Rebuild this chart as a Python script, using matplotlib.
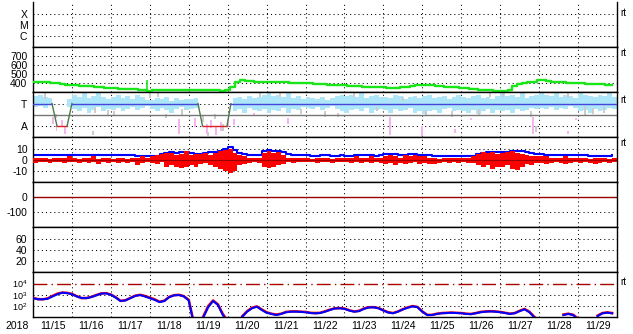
import numpy as np
import matplotlib.pyplot as plt

plt.rcParams['font.family'] = ['Liberation Sans', 'DejaVu Sans']
plt.rcParams['font.size'] = 7.5
plt.rcParams['axes.unicode_minus'] = False

nan = np.nan

# time axis: hours since 2018-11-15 00:00, 3-hour slots
day_labels = ['11/15', '11/16', '11/17', '11/18', '11/19', '11/20', '11/21', '11/22',
              '11/23', '11/24', '11/25', '11/26', '11/27', '11/28', '11/29']

# solar wind speed [km/s]
speed = [420, 415, 412, 410, 405, 398, 392, 385,
         382, 378, 375, 372, 368, 362, 355, 348,
         345, 343, 340, 338, 335, 332, 330, 325,
         320, 322, 325, 325, 328, 326, 325, 325,
         325, 326, 328, 328, 326, 325, 324, 320,
         322, 360, 420, 435, 430, 425, 420, 418,
         418, 415, 415, 412, 410, 408, 405, 402,
         400, 398, 395, 390, 388, 385, 382, 380,
         378, 375, 370, 365, 362, 360, 358, 355,
         355, 348, 345, 348, 355, 362, 370, 378,
         380, 380, 378, 372, 365, 362, 360, 358,
         350, 345, 342, 335, 330, 325, 322, 320,
         318, 318, 330, 370, 395, 405, 415, 420,
         435, 440, 430, 420, 415, 410, 405, 400,
         400, 398, 395, 392, 390, 388, 385, 385]
spike_hour = [70.3]
spike_top = [440]

# sector polarity (3 = T, 1 = A)
sector_hours = [0, 11.7, 14.8, 21.0, 24.0, 101.7, 104.5, 119.6, 122.0, 360]
sector_level = [3, 3, 1, 1, 3, 3, 1, 1, 3, 3]

cyan_lo = [2.7, 2.8, 2.6, 2.9, nan, nan, nan, 2.7,
           2.5, 2.3, 2.6, 2.2, 2.4, 2.7, 2.3, 2.5,
           2.4, 2.6, 2.3, 2.5, 2.7, 2.4, 2.6, 2.8,
           2.5, 2.3, 2.6, 2.4, 2.2, 2.5, 2.7, 2.4,
           2.5, 2.6, nan, nan, nan, nan, nan, nan,
           nan, 2.3, 2.5, 2.2, 2.6, 2.4, 2.3, 2.5,
           2.2, 2.4, 2.3, 2.6, 2.2, 2.5, 2.4, 2.7,
           2.6, 2.5, 2.7, 2.4, 2.6, 2.8, 2.5, 2.3,
           2.2, 2.4, 2.5, 2.3, 2.6, 2.2, 2.4, 2.5,
           2.4, 2.2, 2.5, 2.3, 2.4, 2.6, 2.2, 2.3,
           2.1, 2.3, 2.4, 2.2, 2.5, 2.6, 2.3, 2.4,
           2.3, 2.2, 2.4, 2.1, 2.3, 2.5, 2.2, 2.4,
           2.3, 2.4, 2.2, 2.5, 2.3, 2.4, 2.6, 2.5,
           2.6, 2.5, 2.7, 2.4, 2.6, 2.5, 2.8, 2.6,
           2.3, 2.4, 2.2, 2.5, 2.3, 2.4, 2.6, 2.5]
cyan_hi = [3.7, 3.8, 3.6, 3.5, nan, nan, nan, 3.4,
           3.8, 3.6, 3.9, 3.5, 3.7, 3.9, 3.6, 3.4,
           3.6, 3.8, 3.5, 3.7, 3.4, 3.8, 3.6, 3.3,
           3.3, 3.5, 3.4, 3.6, 3.2, 3.5, 3.3, 3.4,
           3.4, 3.5, nan, nan, nan, nan, nan, nan,
           nan, 3.5, 3.6, 3.4, 3.7, 3.5, 3.6, 3.8,
           3.9, 3.7, 3.8, 3.6, 3.9, 3.5, 3.7, 3.4,
           3.6, 3.5, 3.4, 3.6, 3.3, 3.5, 3.7, 3.8,
           3.7, 3.8, 3.6, 3.9, 3.5, 3.7, 3.8, 3.6,
           3.6, 3.5, 3.8, 3.7, 3.4, 3.6, 3.7, 3.5,
           3.7, 3.8, 3.5, 3.6, 3.7, 3.4, 3.6, 3.8,
           3.6, 3.5, 3.7, 3.8, 3.5, 3.6, 3.4, 3.7,
           3.9, 3.7, 3.8, 3.6, 3.9, 3.5, 3.7, 3.8,
           3.9, 3.8, 3.7, 3.9, 3.6, 3.8, 3.7, 3.5,
           3.9, 3.8, 3.7, 3.6, 3.8, 3.7, 3.9, 3.6]

gray_hour = [7.4, 14, 37, 38, 46, 50, 72, 77, 82, 92, 105, 108, 112, 117, 140, 152,
             165, 180, 188, 198, 212, 228, 242, 258, 275, 282, 290, 307, 310, 330,
             340, 345, 352]
gray_lo = [3.4, 1.7, 0.2, 2.2, 2.0, 1.9, 3.5, 3.6, 1.7, 2.0, 1.4, 0.1, 1.6, 0.6, 3.6, 3.6,
           2.1, 1.8, 1.8, 3.6, 2.3, 3.2, 2.0, 1.8, 2.0, 3.6, 3.6, 1.8, 0.5, 3.5,
           2.0, 2.1, 2.2]
gray_hi = [3.9, 2.1, 0.6, 2.7, 2.4, 2.3, 3.9, 3.9, 2.1, 2.5, 2.0, 0.5, 2.1, 1.2, 3.9, 3.95,
           2.5, 2.3, 2.2, 3.95, 2.7, 3.6, 2.4, 2.3, 2.5, 3.9, 3.95, 2.3, 1.0, 3.9,
           2.8, 2.6, 2.8]

pink_hour = [12.5, 14.5, 18, 20, 90, 100, 107, 110, 113, 116, 120, 124, 136, 157,
             220, 240, 260, 270, 308, 330, 335]
pink_lo = [1.2, 0.6, 1.0, 0.3, 0.3, 0.9, 0.3, 0.8, 0.2, 0.6, 0.9, 1.1, 1.9, 1.2,
           0.2, 0.1, 0.4, 1.5, 0.3, 0.3, 1.5]
pink_hi = [1.8, 1.4, 1.5, 0.9, 1.6, 1.7, 1.2, 1.5, 1.0, 1.4, 1.6, 1.6, 2.2, 1.7,
           1.8, 1.0, 0.7, 1.7, 1.8, 0.6, 1.7]

# IMF Bt and Bz [nT]
bt = [4, 4, 4, 4, 4, 4, 4, 4,
      4, 4, 4.5, 4, 4, 4.5, 4.5, 4.5,
      4.5, 4, 4, 4, 4, 3.5, 3, 3,
      3, 3.5, 5, 6, 6.5, 6, 6.5, 7,
      6, 5.5, 5.5, 6, 7, 7, 8, 10,
      11, 9, 6, 5, 4.5, 4, 4.5, 8,
      8.5, 8, 7.5, 7, 5, 4, 4, 4,
      4, 3.5, 3.5, 4, 4, 3.5, 3.5, 4,
      3.5, 3.5, 4, 4, 4, 4, 3.5, 4,
      5, 5.5, 5, 4.5, 4.5, 5, 5, 4,
      4, 4, 3.5, 3, 3, 3, 3, 3,
      3, 3, 3.5, 5, 6, 6.5, 6.5, 7,
      7, 7, 7.5, 8, 8, 7, 6, 5,
      5, 4.5, 4.5, 4, 4, 4, 4, 4,
      4, 4, 3.5, 3.5, 3.5, 3.5, 3.5, 4]
bz_lo = [-3, -2, -2, -3, -2, -2, -3, -2,
         -2, -3, -2, -3, -2, -4, -2, -3,
         -2, -3, -2, -3, -2, -5, -3, -2,
         -3, -4, -2, -6, -5, -6, -7, -6,
         -5, -6, -4, -3, -5, -6, -8, -10,
         -12, -10, -5, -4, -3, -2, -3, -6,
         -7, -6, -5, -4, -2, -3, -2, -2,
         -2, -2, -3, -2, -2, -3, -2, -2,
         -2, -3, -2, -3, -2, -3, -2, -3,
         -4, -3, -5, -3, -4, -3, -2, -4,
         -3, -4, -4, -3, -2, -3, -2, -3,
         -2, -3, -3, -5, -6, -5, -8, -6,
         -6, -5, -8, -9, -6, -4, -5, -3,
         -3, -4, -3, -2, -3, -4, -3, -2,
         -3, -2, -3, -4, -3, -2, -3, -2]
bz_hi = [2, 2, 1.5, 1, 2, 2, 2, 3,
         2, 1, 2, 2, 3, 1, 2, 2,
         1, 2, 2, 1, 2, 2, 3, 2,
         3, 4, 5, 6, 6, 4, 5, 8,
         4, 5, 5, 6, 4, 6, 8, 9,
         10, 6, 4, 3, 2, 2, 2, 6,
         8, 6, 7, 4, 2, 2, 2, 1.5,
         1.5, 1, 1.5, 2, 1.5, 1, 2, 1.5,
         2, 2, 3, 2, 2, 3, 2, 2,
         3, 4, 3, 2, 4, 3, 4, 3,
         3, 2, 2, 1, 1.5, 2, 2, 2,
         2, 2, 3, 5, 7, 6, 7, 5,
         6, 7, 8, 6, 5, 4, 3, 3,
         3, 3, 2, 2, 2, 3, 2, 2,
         2, 2, 1, 2, 2, 2, 1, 2]

# electron flux, log10
flux_blue_log = [2.7, 2.6, 2.6, 2.65, 2.85, 3.05, 3.18, 3.15,
                 3.05, 2.85, 2.72, 2.7, 2.8, 2.95, 3.1, 3.13,
                 3.0, 2.75, 2.45, 2.5, 2.7, 2.9, 2.98, 2.85,
                 2.7, 2.55, 2.35, 2.45, 2.8, 2.95, 2.98, 2.85,
                 2.5, 0.5, nan, 1.0, 1.9, 2.45, 2.1, 1.2,
                 0.6, nan, nan, 1.05, 1.5, 1.8, 1.94, 1.65,
                 1.4, 1.3, 1.2, 1.3, 1.45, 1.5, 1.5, 1.48,
                 1.45, 1.38, 1.35, 1.38, 1.5, 1.65, 1.78, 1.8,
                 1.75, 1.6, 1.5, 1.55, 1.75, 1.87, 1.89, 1.8,
                 1.6, 1.42, 1.36, 1.5, 1.7, 1.85, 1.97, 1.9,
                 1.5, 1.2, 1.2, 1.3, 1.36, 1.38, 1.4, 1.38,
                 1.36, 1.3, 1.28, 1.36, 1.45, 1.5, 1.52, 1.5,
                 1.45, 1.38, 1.3, 1.36, 1.55, 1.71, 1.45, 1.0,
                 0.6, nan, nan, nan, nan, 1.2, 1.3, 1.2,
                 0.8, nan, nan, nan, 1.1, 1.35, 1.41, 1.35]
flux_red_log = [2.72, 2.62, 2.6, 2.68, 2.9, 3.1, 3.2, 3.17,
                3.08, 2.88, 2.7, 2.72, 2.82, 2.98, 3.12, 3.15,
                3.02, 2.78, 2.45, 2.52, 2.72, 2.92, 3.0, 2.9,
                2.75, 2.6, 2.38, 2.48, 2.82, 2.97, 3.0, 2.88,
                2.55, 0.6, nan, 1.1, 2.0, 2.5, 2.15, 1.3,
                0.7, nan, nan, 1.1, 1.55, 1.85, 1.97, 1.7,
                1.45, 1.32, 1.25, 1.32, 1.48, 1.52, 1.53, 1.5,
                1.48, 1.4, 1.38, 1.4, 1.53, 1.68, 1.8, 1.82,
                1.78, 1.62, 1.52, 1.58, 1.78, 1.9, 1.9, 1.82,
                1.62, 1.45, 1.38, 1.52, 1.72, 1.88, 2.0, 1.92,
                1.52, 1.22, 1.22, 1.32, 1.38, 1.4, 1.42, 1.4,
                1.38, 1.32, 1.3, 1.38, 1.48, 1.52, 1.55, 1.52,
                1.48, 1.4, 1.32, 1.38, 1.58, 1.74, 1.5, 1.05,
                0.7, nan, nan, nan, nan, 1.25, 1.32, 1.22,
                0.9, nan, nan, nan, 1.15, 1.38, 1.44, 1.38]

hours = np.arange(len(speed)) * 3.0

# figure layout in pixels
W, H = 633, 334
fig = plt.figure(figsize=(W / 100, H / 100), dpi=100)
x0, x1 = 33, 617
top0, ph = 2.3, 45.0

dot = dict(color='black', lw=0.75, ls=(0, (1, 3)), zorder=0.5)

axes = []
for i in range(7):
    t = top0 + i * ph
    ax = fig.add_axes([x0 / W, 1 - (t + ph) / H, (x1 - x0) / W, ph / H])
    ax.set_xlim(0, 360)
    for d in range(1, 15):
        ax.axvline(24 * d, **dot)
    ax.tick_params(length=0, pad=4, labelsize=7.5)
    ax.set_xticks([])
    for s in ax.spines.values():
        s.set_linewidth(1.0)
    axes.append(ax)

# panel 1: X-ray class
ax = axes[0]
ax.spines['top'].set_visible(False)
ax.set_ylim(0, 4)
ax.set_yticks([1, 2, 3], ['C', 'M', 'X'])
for v in [1, 2, 3]:
    ax.axhline(v, **dot)

# panel 2: speed
ax = axes[1]
ax.set_ylim(300, 800)
ax.set_yticks([400, 500, 600, 700])
for v in [400, 500, 600, 700]:
    ax.axhline(v, **dot)
ax.step(hours, speed, where='mid', color='#19e619', lw=1.7, zorder=3)
ax.vlines(spike_hour, 320, spike_top, color='#19e619', lw=1.2, zorder=3)

# panel 3: sector
ax = axes[2]
ax.set_ylim(0, 4)
ax.set_yticks([1, 3], ['A', 'T'])
for v in [1, 3]:
    ax.axhline(v, **dot)
ax.bar(hours + 1.5, np.array(cyan_hi) - np.array(cyan_lo), bottom=cyan_lo,
       width=3.0, color='#acE6f8', zorder=1)
ax.bar(gray_hour, np.array(gray_hi) - np.array(gray_lo), bottom=gray_lo,
       width=1.2, color='#cccccc', zorder=1.2)
ax.bar(pink_hour, np.array(pink_hi) - np.array(pink_lo), bottom=pink_lo,
       width=1.2, color='#f4b4f0', zorder=1.2)
ax.axhline(2, color='#777777', lw=1.0, zorder=2)
for k in range(len(sector_hours) - 1):
    a, b = sector_level[k], sector_level[k + 1]
    c = '#4646dc' if a == b == 3 else ('#dd2222' if a == b == 1 else '#4a7a4a')
    ax.plot(sector_hours[k:k + 2], sector_level[k:k + 2], color=c, lw=1.0, zorder=3)

# panel 4: Bt / Bz
ax = axes[3]
ax.set_ylim(-20, 20)
ax.set_yticks([-10, 0, 10])
for v in [-10, 10]:
    ax.axhline(v, **dot)
ax.step(hours, bt, where='post', color='#0000ff', lw=1.5, zorder=2)
ax.bar(hours + 1.5, np.array(bz_hi) - np.array(bz_lo), bottom=bz_lo,
       width=3.0, color='#ff0000', zorder=3)
ax.axhline(0, color='#990000', lw=0.8, zorder=4)

# panel 5
ax = axes[4]
ax.set_ylim(-200, 100)
ax.set_yticks([-100, 0])
ax.axhline(-100, **dot)
ax.axhline(0, color='#990000', lw=1.0, zorder=2)

# panel 6
ax = axes[5]
ax.set_ylim(0, 80)
ax.set_yticks([20, 40, 60])
for v in [20, 40, 60]:
    ax.axhline(v, **dot)

# panel 7: electron flux
ax = axes[6]
ax.set_yscale('log')
ax.set_ylim(10, 1e5)
ax.set_yticks([1e2, 1e3, 1e4], [r'$\mathregular{10^2}$', r'$\mathregular{10^3}$',
                                r'$\mathregular{10^4}$'])
ax.minorticks_off()
ax.tick_params(axis='y', length=0, pad=4, labelsize=6.5)
for v in [1e2, 1e3]:
    ax.axhline(v, **dot)
ax.axhline(1e4, color='#aa0000', lw=1.0, ls=(0, (10, 3, 1, 3)), zorder=2)
ax.plot(hours, 10 ** np.array(flux_red_log), color='#ff0000', lw=1.8, zorder=3)
ax.plot(hours, 10 ** np.array(flux_blue_log), color='#0000ff', lw=1.5, zorder=4)
ax.set_xticks(np.arange(15) * 24 + 12, day_labels)
ax.tick_params(axis='x', length=0, pad=3, labelsize=7.5)

fig.text(17 / W, 1 - 326 / H, '2018', ha='center', va='center', fontsize=7.5)
for y in [13, 53, 100, 143, 282]:
    fig.text(620 / W, 1 - y / H, 'rt', ha='left', va='center', fontsize=7)

fig.savefig('out.png', dpi=100)
